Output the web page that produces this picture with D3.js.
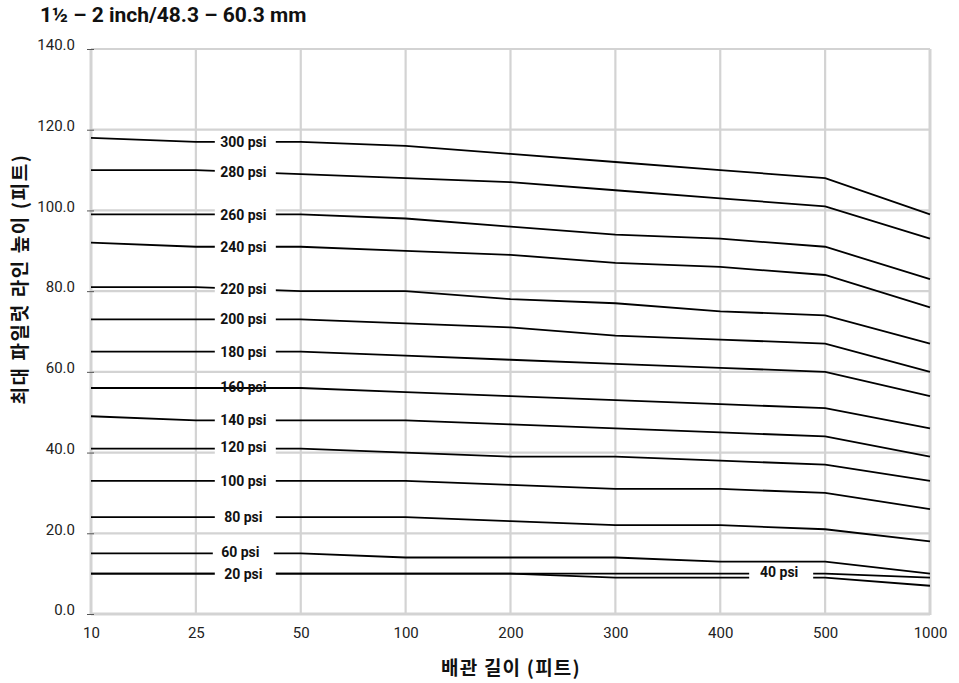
<!DOCTYPE html>
<html>
<head>
<meta charset="utf-8">
<script src="https://cdn.jsdelivr.net/npm/d3@7"></script>
<style>
  body { margin: 0; background: #fff; }
  svg { display: block; }
</style>
</head>
<body>
<svg id="chart" width="959" height="683"></svg>
<script>
// ---- data ----
const categories = ["10", "25", "50", "100", "200", "300", "400", "500", "1000"];
const yTicks = [0, 20, 40, 60, 80, 100, 120, 140];
const seriesNames = ["300 psi", "280 psi", "260 psi", "240 psi", "220 psi", "200 psi", "180 psi", "160 psi",
                     "140 psi", "120 psi", "100 psi", "80 psi", "60 psi", "40 psi", "20 psi"];
const psi300 = [118, 117, 117, 116, 114, 112, 110, 108, 99];
const psi280 = [110, 110, 109, 108, 107, 105, 103, 101, 93];
const psi260 = [99, 99, 99, 98, 96, 94, 93, 91, 83];
const psi240 = [92, 91, 91, 90, 89, 87, 86, 84, 76];
const psi220 = [81, 81, 80, 80, 78, 77, 75, 74, 67];
const psi200 = [73, 73, 73, 72, 71, 69, 68, 67, 60];
const psi180 = [65, 65, 65, 64, 63, 62, 61, 60, 54];
const psi160 = [56, 56, 56, 55, 54, 53, 52, 51, 46];
const psi140 = [49, 48, 48, 48, 47, 46, 45, 44, 39];
const psi120 = [41, 41, 41, 40, 39, 39, 38, 37, 33];
const psi100 = [33, 33, 33, 33, 32, 31, 31, 30, 26];
const psi80  = [24, 24, 24, 24, 23, 22, 22, 21, 18];
const psi60  = [15, 15, 15, 14, 14, 14, 13, 13, 10];
const psi40  = [10, 10, 10, 10, 10, 10, 10, 10, 9];
const psi20  = [10, 10, 10, 10, 10, 9, 9, 9, 7];
const seriesValues = [psi300, psi280, psi260, psi240, psi220, psi200, psi180, psi160,
                      psi140, psi120, psi100, psi80, psi60, psi40, psi20];
const title = "1½ – 2 inch/48.3 – 60.3 mm";
const xTitle = "배관 길이 (피트)";
const yTitle = "최대 파일럿 라인 높이 (피트)";

// ---- layout ----
const svg = d3.select("#chart");
const plotL = 91, plotR = 930, plotT = 49, plotB = 614;
const x = d3.scalePoint().domain(categories).range([plotL, plotR]).padding(0);
const y = d3.scaleLinear().domain([0, 140]).range([plotB, plotT]);
const grid = "#d3d3d3";
const fontLatin = "Roboto, 'Liberation Sans', Arial, sans-serif";
const fontKR = "'Noto Sans CJK KR', 'Noto Sans', sans-serif";

// title
svg.append("text").attr("x", 40).attr("y", 22)
  .attr("font-family", fontLatin).attr("font-weight", "bold").attr("font-size", 21)
  .attr("fill", "#111").text(title);

// gridlines
const g = svg.append("g");
g.selectAll("line.h").data(yTicks).join("line")
  .attr("x1", plotL).attr("x2", plotR)
  .attr("y1", d => y(d)).attr("y2", d => y(d))
  .attr("stroke", grid).attr("stroke-width", d => d === 0 ? 3 : 2.2);
g.selectAll("line.v").data(categories).join("line")
  .attr("x1", d => x(d)).attr("x2", d => x(d))
  .attr("y1", plotT).attr("y2", plotB + 1)
  .attr("stroke", grid).attr("stroke-width", (d, i) => (i === 0 || i === categories.length - 1) ? 3 : 2.2);

// y axis ticks + labels
const yAxis = d3.axisLeft(y).tickValues(yTicks).tickSize(7).tickFormat(d3.format(".1f"));
const ya = svg.append("g").attr("transform", `translate(${plotL + 3},0)`).call(yAxis);
ya.select(".domain").remove();
ya.selectAll(".tick line").attr("stroke", "#555").attr("stroke-width", 1);
ya.selectAll(".tick text").attr("font-family", fontLatin).attr("font-size", 15)
  .attr("fill", "#222").attr("x", -19).attr("dy", "0.05em");

// x axis labels
const xAxis = d3.axisBottom(x).tickSize(0).tickPadding(13);
const xa = svg.append("g").attr("transform", `translate(0,${plotB})`).call(xAxis);
xa.select(".domain").remove();
xa.selectAll(".tick text").attr("font-family", fontLatin).attr("font-size", 15).attr("fill", "#222");

// axis titles
svg.append("text").attr("x", 511).attr("y", 675).attr("text-anchor", "middle")
  .attr("font-family", fontKR).attr("font-weight", "bold").attr("font-size", 19)
  .attr("letter-spacing", 1.2).attr("fill", "#111").text(xTitle);
svg.append("text").attr("transform", "translate(27,279) rotate(-90)").attr("text-anchor", "middle")
  .attr("font-family", fontKR).attr("font-weight", "bold").attr("font-size", 19)
  .attr("letter-spacing", 1.6).attr("fill", "#111").text(yTitle);

// lines
const line = d3.line().x((d, i) => x(categories[i])).y(d => y(d));
const series = seriesNames.map((n, i) => ({ name: n, values: seriesValues[i] }));
svg.append("g").selectAll("path").data(series).join("path")
  .attr("d", d => line(d.values))
  .attr("fill", "none").attr("stroke", "#000").attr("stroke-width", 1.8);

// labels
function interp(vals, i0, t) { return vals[i0] + (vals[i0 + 1] - vals[i0]) * t; }
const lab = svg.append("g");
series.forEach(s => {
  let i0 = 1, t = 0.5, dx = -5, bdx = -3, dy = 0, w = 61;
  if (s.name === "40 psi") { i0 = 6; t = 0.6; w = 64; dy = -2; dx = -4; bdx = -2; }
  if (s.name === "60 psi") { dy = -2; dx = -8; bdx = -5; }
  if (s.name === "120 psi") { dy = -2; }
  if (s.name === "160 psi") { dy = -1.5; }
  const bx = x(categories[i0]) + (x(categories[i0 + 1]) - x(categories[i0])) * t;
  const cy = y(interp(s.values, i0, t)) + dy;
  if (s.name !== "160 psi") {
    lab.append("rect").attr("x", bx + bdx - w / 2).attr("y", cy - 8)
      .attr("width", w).attr("height", 16).attr("fill", "#fff");
  }
  lab.append("text").attr("x", bx + dx).attr("y", cy).attr("dy", "0.36em")
    .attr("text-anchor", "middle").attr("font-family", fontLatin)
    .attr("font-weight", "bold").attr("font-size", 14).attr("fill", "#111")
    .text(s.name);
});
</script>
</body>
</html>
